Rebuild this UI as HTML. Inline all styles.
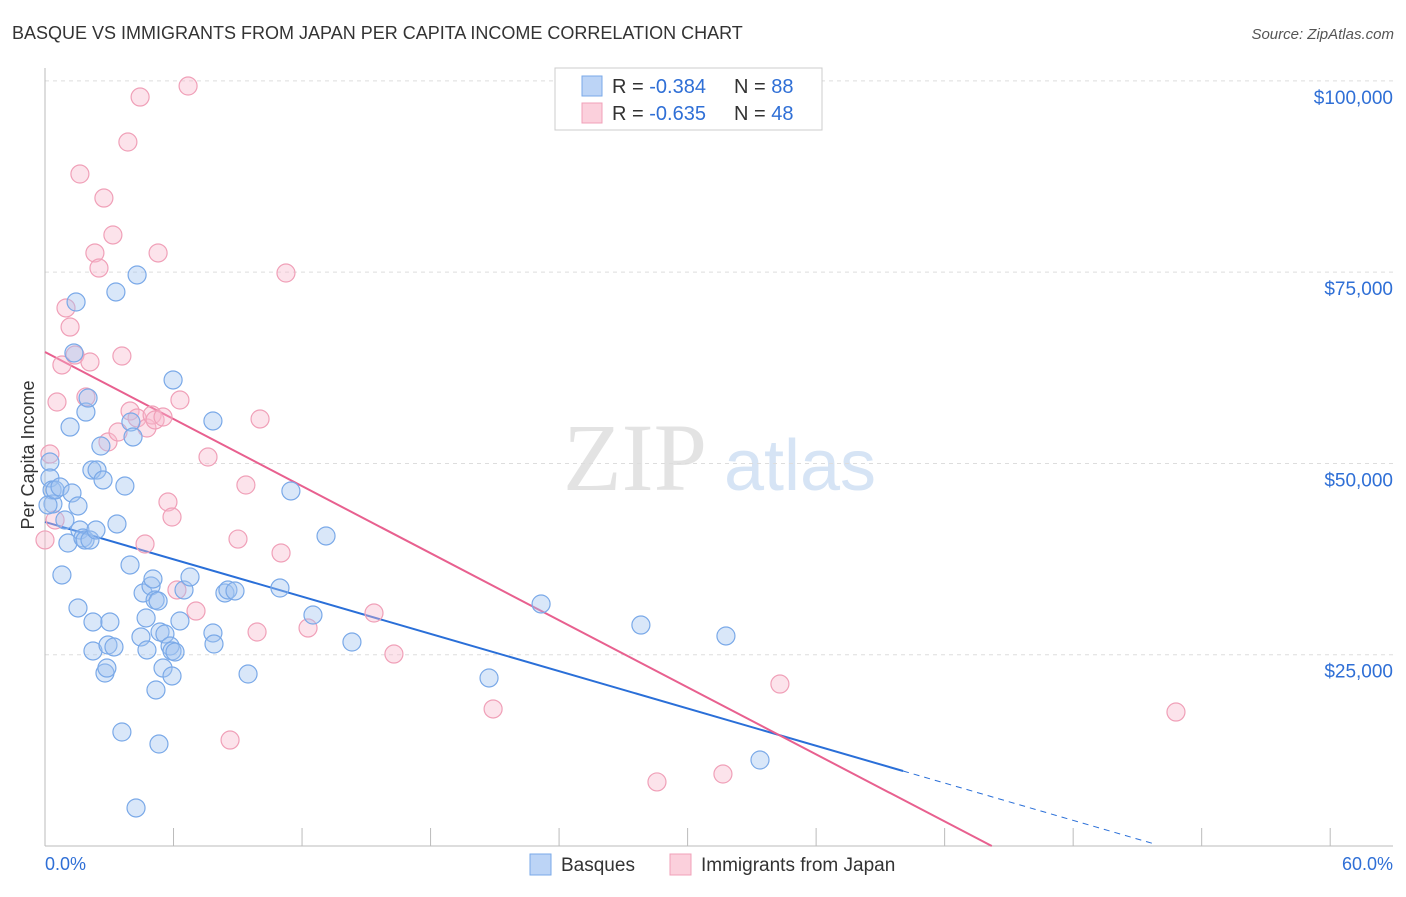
<!DOCTYPE html>
<html><head><meta charset="utf-8"><style>
body{margin:0;background:#fff;font-family:"Liberation Sans",sans-serif}
svg text{font-family:"Liberation Sans",sans-serif}
</style></head><body>
<svg id="chart" width="1406" height="892" xmlns="http://www.w3.org/2000/svg">
<text x="12" y="39" font-size="18" fill="#333">BASQUE VS IMMIGRANTS FROM JAPAN PER CAPITA INCOME CORRELATION CHART</text>
<text x="1394" y="39" font-size="15" fill="#555" font-style="italic" text-anchor="end">Source: ZipAtlas.com</text>
<text transform="translate(34,455) rotate(-90)" font-size="18" fill="#333" text-anchor="middle">Per Capita Income</text>
<g>
<text x="635" y="490" font-size="96" fill="#e3e3e3" text-anchor="middle" font-family="Liberation Serif" style="font-family:'Liberation Serif',serif">ZIP</text>
<text x="800" y="490" font-size="72" fill="#d6e4f5" text-anchor="middle">atlas</text>
</g>
<g id="grid"></g><g id="axes"></g><g id="trends"></g><g id="points"></g>
<g>
<rect x="555" y="68" width="267" height="62" fill="#fff" stroke="#ccc"/>
<rect x="582" y="76" width="20" height="20" fill="#bcd4f6" stroke="#7aa9e8"/>
<rect x="582" y="103" width="20" height="20" fill="#fbd0dc" stroke="#f0a0b8"/>
<text x="612" y="93" font-size="20" fill="#333">R = <tspan fill="#2f6fd6">-0.384</tspan></text>
<text x="734" y="93" font-size="20" fill="#333">N = <tspan fill="#2f6fd6">88</tspan></text>
<text x="612" y="120" font-size="20" fill="#333">R = <tspan fill="#2f6fd6">-0.635</tspan></text>
<text x="734" y="120" font-size="20" fill="#333">N = <tspan fill="#2f6fd6">48</tspan></text>
</g>
<g>
<rect x="530" y="854" width="21" height="21" fill="#bcd4f6" stroke="#7aa9e8"/>
<text x="561" y="871" font-size="19" fill="#333">Basques</text>
<rect x="670" y="854" width="21" height="21" fill="#fbd0dc" stroke="#f0a0b8"/>
<text x="701" y="871" font-size="19" fill="#333">Immigrants from Japan</text>
</g>
<text x="45" y="870" font-size="18" fill="#2f6fd6">0.0%</text>
<text x="1393" y="870" font-size="18" fill="#2f6fd6" text-anchor="end">60.0%</text>
</svg>
<script>
const yTicks=[25000,50000,75000,100000];
const yTickLabels=["$25,000","$50,000","$75,000","$100,000"];
const xTicks=[0,6,12,18,24,30,36,42,48,54,60];
const basqueX=[0.23,0.23,0.33,0.37,0.14,0.47,0.70,0.79,0.93,1.07,1.17,1.26,1.35,1.45,1.54,1.54,1.63,1.77,1.87,1.91,2.01,2.10,2.19,2.24,2.24,2.38,2.43,2.61,2.71,2.80,2.89,2.94,3.03,3.22,3.31,3.36,3.59,3.73,3.97,4.01,4.11,4.30,4.25,4.48,4.58,4.72,4.76,4.95,5.04,5.14,5.18,5.28,5.32,5.37,5.51,5.60,5.84,5.93,5.93,5.98,6.07,6.30,6.49,6.77,7.84,7.84,7.89,8.40,8.54,8.87,9.48,10.97,11.48,12.51,13.12,14.33,20.73,23.16,27.82,31.79,33.38];
const basqueY=[50190,48100,46530,44700,44570,46530,46920,35420,42610,39600,54760,46140,64440,71100,44440,31110,41300,40260,39990,56720,58550,39990,49140,29280,25490,41300,49140,52280,47840,22610,23260,26270,29280,26010,72410,42090,14900,47050,36730,55420,53460,74630,4970,27320,33070,29800,25620,33980,34900,32150,20390,32020,13330,27970,23260,27710,26140,22220,25490,60910,25360,29410,33460,35160,55550,27840,26400,33070,33460,33330,22480,33720,46400,30190,40520,26660,21960,31630,28880,27450,11240];
const japanX=[0,0.23,0.47,0.56,0.79,0.98,1.17,1.40,1.63,1.91,2.10,2.33,2.52,2.75,2.94,3.17,3.41,3.59,3.87,3.97,4.30,4.44,4.67,4.76,5.00,5.14,5.28,5.51,5.74,5.93,6.16,6.30,6.68,7.05,7.61,9.01,9.38,9.90,10.04,11.02,11.25,12.28,15.36,16.29,20.92,28.57,31.65,34.31,52.80,8.64];
const japanY=[40000,51230,42610,58030,62870,70320,67830,64170,87830,58680,63260,77510,75540,84690,52800,79860,54110,64040,92010,56850,55940,97890,39470,54630,56330,55680,77510,56070,44960,43000,33460,58290,99330,30710,50840,40120,47180,27970,55810,38300,74890,28490,30450,25090,17910,8370,9410,21170,17510,13850];
const blueTrend=[42350,-812.5,40.06,51.8];
const pinkTrend=[64570,-1461,44.2];
const NS="http://www.w3.org/2000/svg";
const sx=v=>45+v*21.42, sy=v=>846-v/130.7;
function mk(t,a,p){const e=document.createElementNS(NS,t);for(const k in a)e.setAttribute(k,a[k]);p.appendChild(e);return e;}
const grid=document.getElementById('grid'),axes=document.getElementById('axes');
yTicks.forEach((v,i)=>{
 const l=mk('line',{x1:45,x2:1393,y1:sy(v),y2:sy(v),stroke:'#ddd','stroke-dasharray':'4,4'},grid);
 
 
 const t=mk('text',{x:1393,y:sy(v)+23,'font-size':19,fill:'#2f6fd6','text-anchor':'end'},grid);
 t.textContent=yTickLabels[i];
 
 
});
mk('line',{x1:45,x2:45,y1:68,y2:846,stroke:'#bbb'},axes);
mk('line',{x1:45,x2:1393,y1:846,y2:846,stroke:'#bbb'},axes);
xTicks.forEach(v=>{const t=mk('line',{x1:sx(v),x2:sx(v),y1:828,y2:846,stroke:'#bbb'},axes);
 
 });
const tr=document.getElementById('trends');
let b=mk('line',{x1:sx(0),y1:sy(blueTrend[0]),x2:sx(blueTrend[2]),y2:sy(blueTrend[0]+blueTrend[1]*blueTrend[2]),stroke:'#2a6fd8','stroke-width':2},tr);


let bd=mk('line',{x1:sx(blueTrend[2]),y1:sy(blueTrend[0]+blueTrend[1]*blueTrend[2]),x2:sx(blueTrend[3]),y2:sy(blueTrend[0]+blueTrend[1]*blueTrend[3]),stroke:'#2a6fd8','stroke-width':1,'stroke-dasharray':'6,5'},tr);


let p=mk('line',{x1:sx(0),y1:sy(pinkTrend[0]),x2:sx(pinkTrend[2]),y2:sy(pinkTrend[0]+pinkTrend[1]*pinkTrend[2]),stroke:'#e8608f','stroke-width':2},tr);


const pts=document.getElementById('points');
japanX.forEach((x,i)=>{const c=mk('circle',{cx:sx(x),cy:sy(japanY[i]),r:9,fill:'rgba(248,185,205,0.4)',stroke:'#f0a0b8','stroke-width':1.2},pts);
 
 });
basqueX.forEach((x,i)=>{const c=mk('circle',{cx:sx(x),cy:sy(basqueY[i]),r:9,fill:'rgba(160,195,240,0.4)',stroke:'#7aa9e8','stroke-width':1.2},pts);
 
 });
</script>
</body></html>
